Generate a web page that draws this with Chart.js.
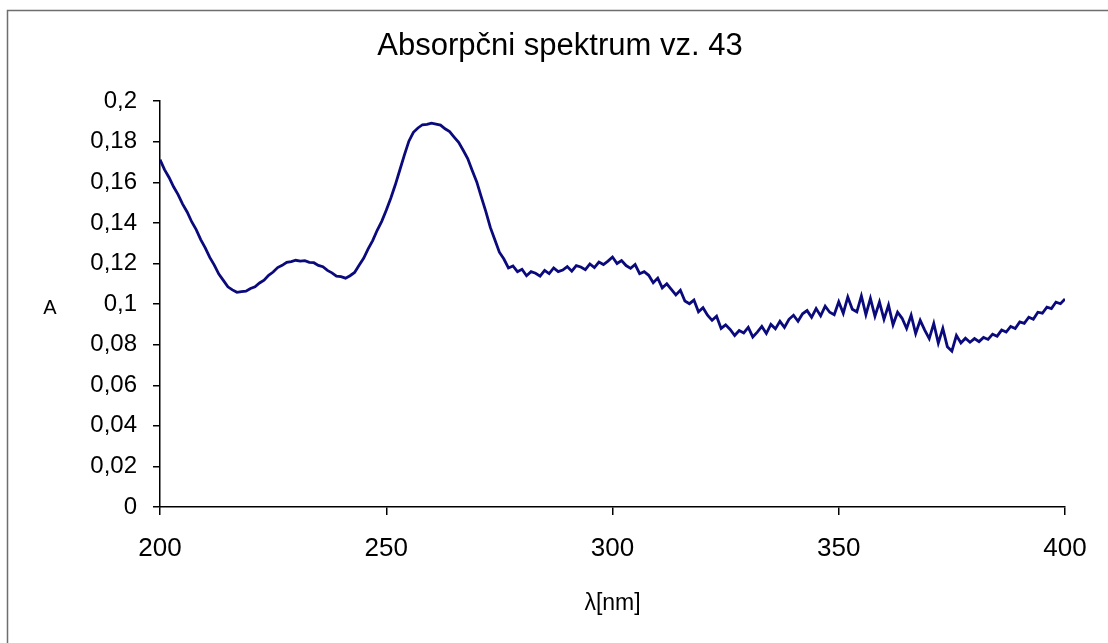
<!DOCTYPE html>
<html>
<head>
<meta charset="utf-8">
<script src="https://cdn.jsdelivr.net/npm/chart.js@4.4.0/dist/chart.umd.min.js"></script>
<style>
  html, body { margin: 0; padding: 0; background: #fff; }
  #wrap { width: 1108px; height: 643px; }
</style>
</head>
<body>
<div id="wrap"><canvas id="spektrum" width="1108" height="643"></canvas></div>
<script>
// spectrum sampled every 1 nm, 200..400 nm
const lambdaStart = 200;
const lambdaStep = 1;
const absorbance = [
  0.1712, 0.1663, 0.1624, 0.1578, 0.1540, 0.1493, 0.1454, 0.1406, 0.1367, 0.1318,
  0.1277, 0.1230, 0.1192, 0.1148, 0.1117, 0.1085, 0.1070, 0.1058, 0.1062, 0.1064,
  0.1077, 0.1085, 0.1104, 0.1118, 0.1142, 0.1158, 0.1180, 0.1191, 0.1206, 0.1209,
  0.1216, 0.1212, 0.1214, 0.1206, 0.1204, 0.1191, 0.1184, 0.1166, 0.1154, 0.1138,
  0.1135, 0.1128, 0.1140, 0.1156, 0.1192, 0.1226, 0.1272, 0.1313, 0.1364, 0.1408,
  0.1462, 0.1522, 0.1588, 0.1661, 0.1734, 0.1803, 0.1847, 0.1868, 0.1884, 0.1886,
  0.1892, 0.1887, 0.1882, 0.1864, 0.1850, 0.1823, 0.1797, 0.1758, 0.1717, 0.1658,
  0.1602, 0.1528, 0.1457, 0.1378, 0.1317, 0.1256, 0.1222, 0.1178, 0.1188, 0.1160,
  0.1172, 0.1140, 0.1160, 0.1152, 0.1138, 0.1166, 0.1150, 0.1178, 0.1160, 0.1168,
  0.1185, 0.1162, 0.1190, 0.1183, 0.1170, 0.1198, 0.1180, 0.1207, 0.1195, 0.1212,
  0.1232, 0.1200, 0.1215, 0.1190, 0.1176, 0.1195, 0.1150, 0.1160, 0.1142, 0.1105,
  0.1128, 0.1080, 0.1100, 0.1072, 0.1045, 0.1068, 0.1015, 0.1002, 0.1020, 0.0962,
  0.0982, 0.0945, 0.0920, 0.0940, 0.0880, 0.0898, 0.0875, 0.0845, 0.0870, 0.0858,
  0.0885, 0.0838, 0.0862, 0.0890, 0.0855, 0.0900, 0.0878, 0.0915, 0.0885, 0.0925,
  0.0945, 0.0915, 0.0952, 0.0968, 0.0935, 0.0978, 0.0942, 0.0990, 0.0960, 0.0948,
  0.1012, 0.0955, 0.1035, 0.0975, 0.0962, 0.1040, 0.0948, 0.1028, 0.0940, 0.1010,
  0.0925, 0.0995, 0.0898, 0.0960, 0.0930, 0.0880, 0.0945, 0.0855, 0.0920, 0.0872,
  0.0830, 0.0905, 0.0808, 0.0880, 0.0790, 0.0768, 0.0845, 0.0808, 0.0832, 0.0812,
  0.0830, 0.0815, 0.0836, 0.0826, 0.0852, 0.0842, 0.0872, 0.0862, 0.0890, 0.0880,
  0.0912, 0.0905, 0.0935, 0.0925, 0.0960, 0.0955, 0.0985, 0.0978, 0.1010, 0.1002,
  0.1025
];

const chartTitle = 'Absorpčni spektrum vz. 43';
const xTitle = 'λ[nm]';
const yTitle = 'A';

const fontFam = '"Liberation Sans", Arial, sans-serif';

let points = absorbance.map(function (a, i) {
    return { x: lambdaStart + i * lambdaStep, y: a };
});

// outer frame + upright "A" label (chart.js rotates vertical axis titles)
const extras = {
    id: 'extras',
    beforeDraw(chart) {
        const c = chart.ctx;
        c.save();
        c.fillStyle = '#fff';
        c.fillRect(0, 0, chart.width, chart.height);
        c.strokeStyle = '#6e6e6e';
        c.lineWidth = 1.5;
        c.strokeRect(7.5, 10.5, chart.width + 20, chart.height + 20);
        c.restore();
    },
    afterDraw(chart) {
        const c = chart.ctx;
        const area = chart.chartArea;
        c.save();
        c.font = '20px ' + fontFam;
        c.fillStyle = '#000';
        c.textAlign = 'center';
        c.textBaseline = 'middle';
        c.fillText(yTitle, area.left - 110, (area.top + area.bottom) / 2 + 4);
        c.restore();
    }
};

let ctx = document.getElementById('spektrum').getContext('2d');
let spectrumChart = new Chart(ctx, {
    type: 'line',
    data: {
        datasets: [{
            label: 'A',
            data: points,
            borderColor: '#0a0a7c',
            borderWidth: 2.8,
            pointRadius: 0,
            tension: 0,
            fill: false
        }]
    },
    options: {
        responsive: false,
        animation: false,
        layout: {
            padding: { left: 55, right: 43, top: 0, bottom: 0 }
        },
        plugins: {
            legend: { display: false },
            tooltip: { enabled: false },
            title: {
                display: true,
                text: chartTitle,
                color: '#000',
                font: { family: fontFam, size: 31, weight: 'normal' },
                padding: { top: 28, bottom: 36 }
            }
        },
        scales: {
            x: {
                type: 'linear',
                min: 200,
                max: 400,
                border: { display: true, color: '#000', width: 1.5 },
                grid: { drawOnChartArea: false, drawTicks: true, tickLength: 8, color: '#000', lineWidth: 1.5 },
                ticks: {
                    stepSize: 50,
                    color: '#000',
                    padding: 18,
                    maxRotation: 0,
                    font: { family: fontFam, size: 26 }
                },
                title: {
                    display: true,
                    text: xTitle,
                    color: '#000',
                    font: { family: fontFam, size: 23 },
                    padding: { top: 0, bottom: 26 }
                },
                afterFit(scale) { scale.height = 136; }
            },
            y: {
                min: 0,
                max: 0.2,
                border: { display: true, color: '#000', width: 1.5 },
                grid: { drawOnChartArea: false, drawTicks: true, tickLength: 7, color: '#000', lineWidth: 1.5 },
                ticks: {
                    stepSize: 0.02,
                    color: '#000',
                    padding: 16,
                    font: { family: fontFam, size: 24 },
                    callback: function (v) {
                        return String(Number(v.toFixed(2))).replace('.', ',');
                    }
                },
                afterFit(scale) { scale.width = 105; }
            }
        }
    },
    plugins: [extras]
});
</script>
</body>
</html>
